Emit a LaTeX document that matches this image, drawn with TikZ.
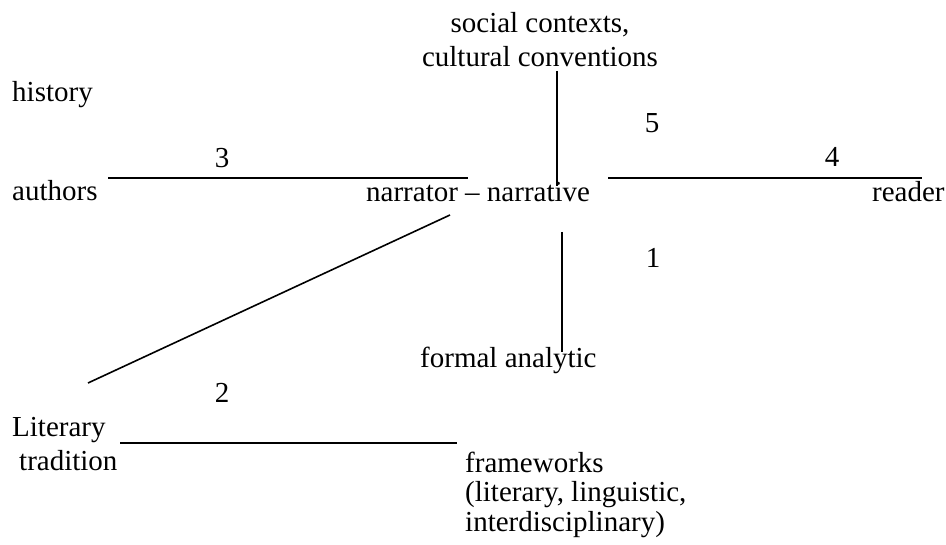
\documentclass[tikz,border=0pt]{standalone}
\usepackage{fontspec}
\setmainfont{Liberation Serif}
\begin{document}
\begin{tikzpicture}[x=1pt,y=-1pt,
  txt/.style={inner sep=0pt,anchor=base west,font=\fontsize{29}{34}\selectfont},
  num/.style={inner sep=0pt,anchor=base,font=\fontsize{29}{34}\selectfont},
  bar/.style={line width=1.6pt}]
\useasboundingbox (0,0) rectangle (946,545);
\node[txt] (hist) at (12,102) {history};
\node[txt] (auth) at (12,201) {authors};
\node[txt] (narr) at (366,202) {narrator -- narrative};
\node[txt] (read) at (872,202) {reader};
\node[txt,anchor=base,align=center] (soc) at (540,67) {social contexts,\\cultural conventions};
\node[txt] (form) at (420,368) {formal analytic};
\node[txt,align=left] (lit) at (12,471) {Literary\\\hspace*{7pt}tradition};
\node[txt,align=left,font=\fontsize{29}{29.5}\selectfont] (frame) at (465,531) {frameworks\\(literary, linguistic,\\interdisciplinary)};
\node[num] (one) at (653,268) {1};
\node[num] (two) at (222,403) {2};
\node[num] (three) at (222,168) {3};
\node[num] (four) at (832,167) {4};
\node[num] (five) at (652,133) {5};
\coordinate (a3) at (108,178); \coordinate (b3) at (468,178);
\coordinate (a4) at (608,178); \coordinate (b4) at (922,178);
\coordinate (a5) at (557,71);  \coordinate (b5) at (557,186);
\coordinate (a1) at (562,232); \coordinate (b1) at (562,352);
\coordinate (a2) at (88,383);  \coordinate (b2) at (450,215);
\coordinate (c2) at (120,443); \coordinate (d2) at (457,443);
\draw[bar] (a3) -- (b3);
\draw[bar] (a4) -- (b4);
\draw[bar] (a5) -- (b5);
\draw[bar] (a1) -- (b1);
\draw[bar] (a2) -- (b2);
\draw[bar] (c2) -- (d2);
\end{tikzpicture}
\end{document}
